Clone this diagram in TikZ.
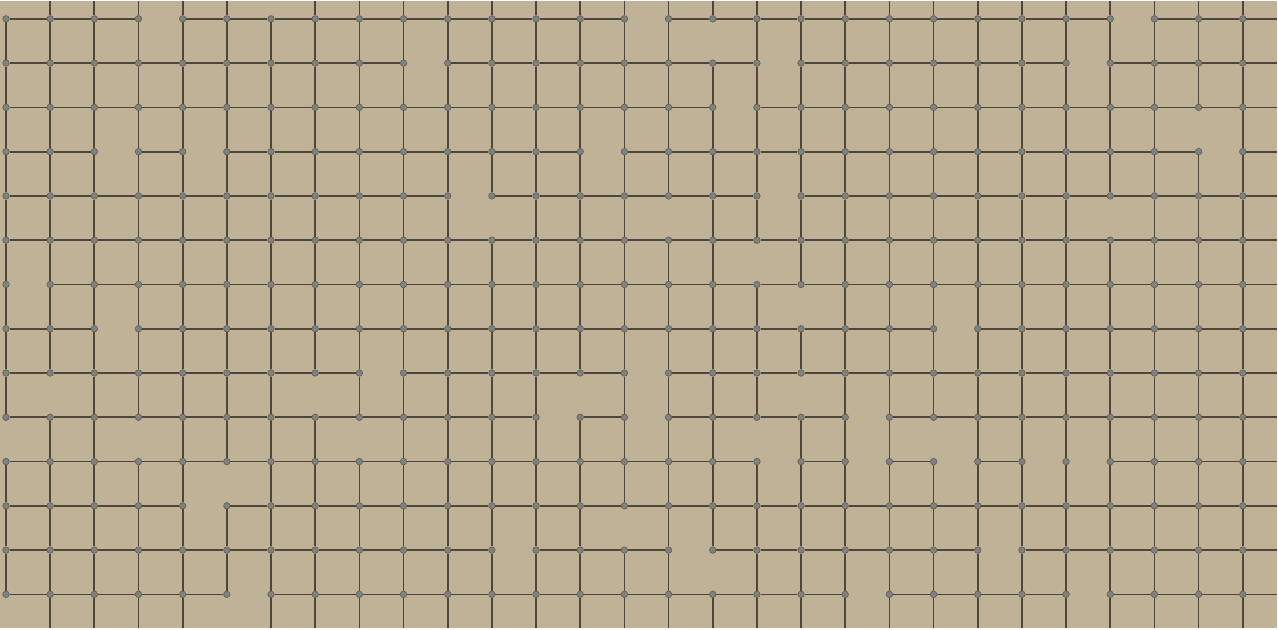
\documentclass[tikz,border=0pt]{standalone}
\usepackage{tikz}

\definecolor{sand}{RGB}{191,178,150}
\definecolor{wirecol}{RGB}{78,71,57}
\definecolor{knob}{RGB}{128,130,127}
\definecolor{knobrim}{RGB}{98,98,94}

% missing links are remembered as empty macros
\newcommand\cutH[2]{\expandafter\gdef\csname cutH-#1-#2\endcsname{}}
\newcommand\cutV[2]{\expandafter\gdef\csname cutV-#1-#2\endcsname{}}
\newcommand\cutT[1]{\expandafter\gdef\csname cutT-#1\endcsname{}}
\newcommand\cutB[1]{\expandafter\gdef\csname cutB-#1\endcsname{}}

\begin{document}
\begin{tikzpicture}[x=1pt,y=-1pt,
    joint/.style={circle, fill=knob, draw=knobrim, line width=0.7pt, inner sep=0pt, minimum size=6.5pt},
    link/.style={draw=wirecol, line width=1.7pt}]
    \fill[sand] (0,0) rectangle (1278,628);

    % gaps in the lattice (row/col)
    \foreach \r/\c in {0/3,0/14,0/25, 1/9,1/17,1/24, 2/16, 3/2,3/4,3/13,3/27,
        4/10,4/17, 6/0, 7/2,7/21, 8/8,8/14, 9/12,9/14,9/19,
        10/17,10/19,10/21,10/23,10/24, 11/4, 12/11,12/15,12/22, 13/5,13/19,13/24}
        {\cutH{\r}{\c}}
    \foreach \r/\c in {0/16, 2/27, 4/11,4/15,4/25, 5/17, 6/18, 8/1,8/7,8/13,8/18,
        9/0,9/3,9/8,9/17,9/21, 10/5, 11/14, 12/16}
        {\cutV{\r}{\c}}
    \foreach \c in {0,6} {\cutT{\c}}
    \foreach \c in {0,5} {\cutB{\c}}

    % joints
    \foreach \r in {0,...,13}
        \foreach \c in {0,...,28}
            \node[joint] (n-\r-\c) at ({6+44.2*\c},{18+44.3*\r}) {};

    \foreach \r in {0,...,13}
        \coordinate (e-\r) at (1278,{18+44.3*\r});
    \foreach \c in {0,...,28} {
        \coordinate (t-\c) at ({6+44.2*\c},0);
        \coordinate (b-\c) at ({6+44.2*\c},628);
    }

    % horizontal links
    \foreach \r in {0,...,13} {
        \foreach \c [count=\k] in {0,...,27} {
            \ifcsname cutH-\r-\c\endcsname\else\draw[link] (n-\r-\c) -- (n-\r-\k);\fi
        }
        \draw[link] (n-\r-28) -- (e-\r);
    }

    % vertical links
    \foreach \r [count=\s] in {0,...,12}
        \foreach \c in {0,...,28} {
            \ifcsname cutV-\r-\c\endcsname\else\draw[link] (n-\r-\c) -- (n-\s-\c);\fi
        }
    \foreach \c in {0,...,28} {
        \ifcsname cutT-\c\endcsname\else\draw[link] (t-\c) -- (n-0-\c);\fi
        \ifcsname cutB-\c\endcsname\else\draw[link] (n-13-\c) -- (b-\c);\fi
    }
\end{tikzpicture}
\end{document}
